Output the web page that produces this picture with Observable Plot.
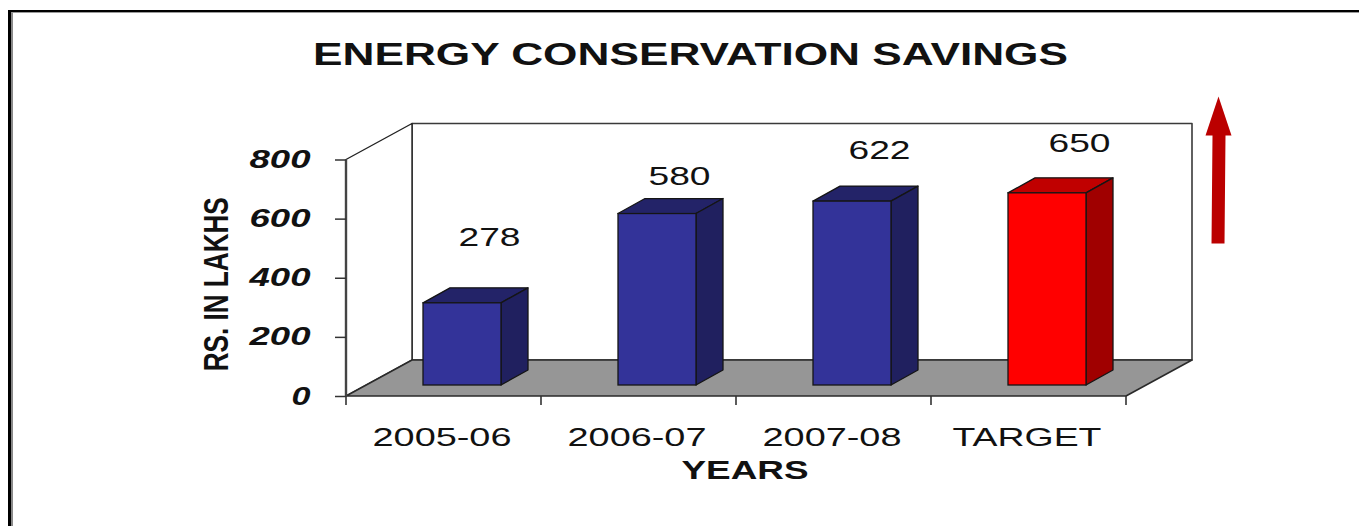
<!DOCTYPE html>
<html>
<head>
<meta charset="utf-8">
<script src="https://cdn.jsdelivr.net/npm/d3@7"></script>
<script src="https://cdn.jsdelivr.net/npm/@observablehq/plot@0.6"></script>
<style>
html,body{margin:0;padding:0;background:#fff;overflow:hidden;width:1359px;height:526px}
#page{position:relative;width:1359px;height:526px;overflow:hidden}
#outer{position:absolute;left:8px;top:10px;width:1500px;height:700px;border-left:3px solid #000;border-top:2px solid #000}
#inner{position:absolute;left:0;top:0;width:100%;height:100%;border-left:2px solid #8a8a8a;border-top:1px solid #9a9a9a}
#title{position:absolute;left:313px;top:36px;margin:0;font:bold 32px "Liberation Sans",sans-serif;color:#111;white-space:nowrap;transform-origin:left top;z-index:2}
#chart{position:absolute;left:0;top:0}
svg{display:block}
</style>
</head>
<body>
<div id="page">
  <div id="outer"><div id="inner"></div></div>
  <h1 id="title">ENERGY CONSERVATION SAVINGS</h1>
  <div id="chart"></div>
</div>
<script>
const categories = ["2005-06", "2006-07", "2007-08", "TARGET"];
const savings = [278, 580, 622, 650];
const yTicks = [0, 200, 400, 600, 800];
const frontColors = ["#333399", "#333399", "#333399", "#ff0000"];
const topColors = ["#232368", "#232368", "#232368", "#c00000"];
const sideColors = ["#20205f", "#20205f", "#20205f", "#a00000"];
const rows = categories.map((category, i) => ({category, value: savings[i], i}));

// layout
const W = 1359, H = 526;
const wallDx = 66, wallDy = 36;      // depth of the floor
const barDx = 27, barDy = 15;        // depth of each bar
const shiftX = 18.5, shiftY = 11;    // bar offset from front edge
const barInset = 58.5;
const labelDx = [45.5, 40.5, 45.5, 50.5];
const labelDy = [-77, -48, -62, -61];

const poly = (g, pts, fill) => g.append("polygon").attr("points", pts.map(p => p.join(",")).join(" "))
  .attr("fill", fill).attr("stroke", "#151515").attr("stroke-width", 1.3).attr("stroke-linejoin", "round");

function stage(index, scales, values, dims) {
  const g = d3.create("svg:g").attr("aria-label", "walls");
  const l = dims.marginLeft, r = dims.width - dims.marginRight;
  const y0 = scales.y(0), y1 = scales.y(yTicks[yTicks.length - 1]);
  const band = (r - l) / categories.length;
  poly(g, [[l + wallDx, y1 - wallDy], [r + wallDx, y1 - wallDy], [r + wallDx, y0 - wallDy], [l + wallDx, y0 - wallDy]], "#fff").attr("stroke", "#3a3a3a").attr("stroke-width", 1.6);
  poly(g, [[l, y1], [l + wallDx, y1 - wallDy], [l + wallDx, y0 - wallDy], [l, y0]], "#fff").attr("stroke", "#222").attr("stroke-width", 1.4);
  poly(g, [[l, y0], [l + wallDx, y0 - wallDy], [r + wallDx, y0 - wallDy], [r, y0]], "#969696").attr("stroke", "#2a2a2a").attr("stroke-width", 1.6);
  g.append("line").attr("x1", l).attr("x2", l).attr("y1", y0).attr("y2", y1).attr("stroke", "#444").attr("stroke-width", 2.4);
  categories.concat([null]).forEach((c, i) => {
    const x = l + i * band;
    g.append("line").attr("x1", x).attr("x2", x).attr("y1", y0).attr("y2", y0 + 9).attr("stroke", "#333").attr("stroke-width", 1.6);
  });
  return g.node();
}

function extrude(index, scales, values, dims, context, next) {
  const g = next(index, scales, values, dims, context);
  const faces = d3.select(g).insert("g", ":first-child");
  const band = (dims.width - dims.marginLeft - dims.marginRight) / categories.length;
  for (const i of index) {
    const d = rows[i];
    // the bar group already carries the dx/dy shift, so faces join the front rect directly
    const xl = scales.x(d.category) + barInset;
    const xr = scales.x(d.category) + band - barInset;
    const yt = scales.y(d.value);
    const yb = scales.y(0);
    poly(faces, [[xl, yt], [xl + barDx, yt - barDy], [xr + barDx, yt - barDy], [xr, yt]], topColors[d.i]);
    poly(faces, [[xr, yt], [xr + barDx, yt - barDy], [xr + barDx, yb - barDy], [xr, yb]], sideColors[d.i]);
  }
  return g;
}

const arrowShape = {
  draw(c, l, r) {
    c.moveTo(-6.5, 0); c.lineTo(6.5, 0);
    c.lineTo(7.5, -l + 39); c.lineTo(13.5, -l + 39);
    c.lineTo(0.5, -l); c.lineTo(-12.5, -l + 39);
    c.lineTo(-5.5, -l + 39); c.closePath();
  }
};

const plot = Plot.plot({
  width: W, height: H,
  marginLeft: 346, marginRight: 233, marginTop: 159.5, marginBottom: 130,
  style: {fontFamily: '"Liberation Sans", Arial, sans-serif', background: "transparent", overflow: "visible"},
  x: {type: "band", domain: categories, padding: 0, round: false, label: null},
  y: {domain: [0, 800], label: null},
  marks: [
    Plot.ruleY([0], {render: stage}),
    Plot.barY(rows, {
      x: "category", y: "value", fill: d => frontColors[d.i], stroke: "#151515", strokeWidth: 1.3,
      insetLeft: barInset, insetRight: barInset, dx: shiftX, dy: -shiftY, render: extrude
    }),
    ...rows.map((d, i) => Plot.text([d], {
      x: "category", y: "value", text: d => String(d.value),
      dx: labelDx[i], dy: labelDy[i], fontSize: 26, fill: "#111", className: "value-label"
    })),
    Plot.axisY({ticks: yTicks, tickSize: 11, tickPadding: 25, stroke: "#333", strokeWidth: 1.5, fontSize: 25, fontWeight: "bold", fontStyle: "italic", fill: "#111", label: null}),
    Plot.axisX({tickSize: 0, tickPadding: 31, dx: -2, fontSize: 26, fill: "#111", label: null}),
    Plot.text(["YEARS"], {frameAnchor: "bottom", dx: 8.5, dy: 82, fontSize: 26, fontWeight: "bold", fill: "#111", className: "x-title"}),
    Plot.text(["RS. IN LAKHS"], {frameAnchor: "left", textAnchor: "middle", dx: -130, dy: 6, rotate: -90, fontSize: 35, fontWeight: "bold", fill: "#111", className: "y-title"}),
    Plot.vector([0], {frameAnchor: "top-right", dx: 1217.5 - 1126, dy: 243 - 159.5, length: 147, shape: arrowShape, anchor: "start", fill: "#bb0000", stroke: "none"})
  ]
});
document.getElementById("chart").append(plot);

// the source image is stretched horizontally: fit each text to its measured run
const fit = (sel, lengths) => plot.querySelectorAll(sel).forEach((el, i) => {
  const n = Array.isArray(lengths) ? lengths[i] : lengths;
  el.setAttribute("textLength", n);
  el.setAttribute("lengthAdjust", "spacingAndGlyphs");
});
fit('g[aria-label="y-axis tick label"] text', [19, 61, 61, 61, 61]);
fit('g[aria-label="x-axis tick label"] text', [139, 139, 139, 149]);
fit('.value-label text', 62);
fit('.x-title text', 127);
fit('.y-title text', 174);

const title = document.getElementById("title");
title.style.transform = `scaleX(${755 / title.getBoundingClientRect().width})`;
</script>
</body>
</html>
